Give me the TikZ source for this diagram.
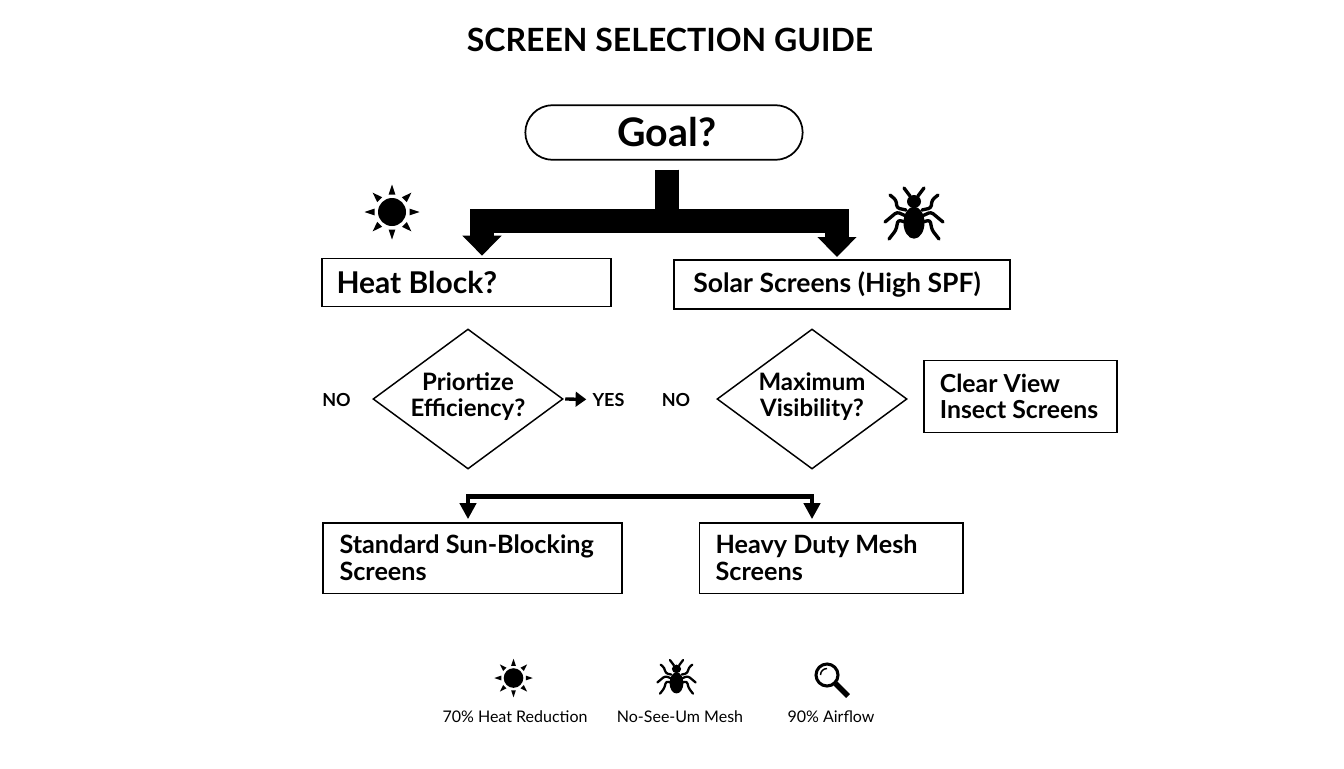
\documentclass[tikz,border=0pt]{standalone}
\usepackage{fontspec}
\setmainfont{Lato}
\usetikzlibrary{shapes.geometric,shapes.misc,arrows.meta,calc}
\tikzset{
  px/.style={x=0.75pt,y=-0.75pt},
  boxnode/.style={draw=black,line width=1.25pt,fill=white,rectangle,font=\bfseries\fontsize{18.9}{20}\selectfont,align=flush left,inner sep=0pt},
  decnode/.style={draw=black,line width=1.1pt,diamond,aspect=1.357,inner sep=0pt,minimum width=142.5pt,minimum height=105pt},
  dectext/.style={font=\bfseries\fontsize{18}{19}\selectfont,align=center,yshift=1.7pt,inner sep=0pt},
  smalllabel/.style={font=\bfseries\fontsize{13.5}{16}\selectfont,inner sep=0pt},
  caplabel/.style={font=\fontsize{12}{14}\selectfont,inner sep=0pt},
  fatarrow/.style={draw=black,line width=18pt,-{Triangle[length=15pt,width=28.5pt]},line join=miter,shorten >=1.5pt},
  midarrow/.style={draw=black,line width=3.6pt,-{Triangle[length=12pt,width=12pt]},line join=miter,shorten >=2pt},
  thinarrow/.style={draw=black,line width=2.5pt,-{Triangle[length=8pt,width=11pt]},shorten >=4.5pt},
  pics/sunicon/.style={code={
    \fill (0,0) circle (14);
    \foreach \a in {0,45,...,315}{
      \fill[rotate=\a] (17.5,-3.4) -- (27.5,0) -- (17.5,3.4) -- cycle;
    }
  }},
  pics/bugicon/.style={code={
    \fill (0,-11.5) ellipse (7 and 6.5);
    \fill (0,9.7) ellipse (10.5 and 16);
    \foreach \s in {-1,1}{
      \begin{scope}[xscale=\s,line width=#1,line cap=round,line join=round]
        \draw (4,-17) -- (10,-25);
        \draw[rounded corners=2pt] (8,-3) -- (17,-5) -- (18,-13) -- (24,-18);
        \draw[rounded corners=2pt] (8,3) -- (17,-1) -- (29,9);
        \draw[rounded corners=2pt] (9,9) -- (16,7) -- (18,17) -- (25,26);
      \end{scope}
    }
  }},
  pics/lensicon/.style={code={
    \draw[line width=2.3pt] (0,0) circle (11);
    \draw[line width=1.1pt] (-6.5,0) arc (180:270:6.5);
    \draw[line width=4pt] (8.5,8.5) -- (21,21);
  }},
}
\begin{document}
\begin{tikzpicture}[px]
\useasboundingbox (0,0) rectangle (1344,768);
\fill[white] (0,0) rectangle (1344,768);
\node[inner sep=0pt,font=\bfseries\fontsize{24}{28}\selectfont] (title) at (670,40) {SCREEN SELECTION GUIDE};
\node[draw=black,line width=1.3pt,rounded rectangle,minimum width=208pt,minimum height=41pt,inner sep=0pt,font=\bfseries\fontsize{29.5}{30}\selectfont] (goal) at (664,132.5) {\hspace*{4.5pt}Goal?};

\node[boxnode,font=\bfseries\fontsize{22.5}{26}\selectfont,minimum width=217pt,minimum height=36pt,text width=195pt] (heat) at (466.5,282.5) {Heat Block?};
\node[boxnode,font=\bfseries\fontsize{19.9}{24}\selectfont,minimum width=252pt,minimum height=37pt,text width=223pt] (solar) at (842,284.5) {Solar Screens (High SPF)};
\node[decnode,label={[dectext,name=priotext]center:{Priortize\\Efficiency?}}] (prio) at (468,399) {};
\node[decnode,label={[dectext,name=maxtext]center:{Maximum\\Visibility?}}] (maxv) at (812,399) {};
\node[smalllabel] (no1) at (336.5,399.5) {NO};
\node[smalllabel] (yes) at (608.5,399.5) {YES};
\node[smalllabel] (no2) at (676,399.5) {NO};
\node[boxnode,font=\bfseries\fontsize{18.6}{19.5}\selectfont,minimum width=144.5pt,minimum height=54pt,text width=121pt] (clear) at (1020.5,396.5) {Clear View\\Insect Screens};
\node[boxnode,minimum width=224pt,minimum height=53pt,text width=199.5pt] (std) at (472.5,558) {Standard Sun-Blocking\\Screens};
\node[boxnode,minimum width=197.5pt,minimum height=53pt,text width=173pt] (heavy) at (831,558) {Heavy Duty Mesh\\Screens};

% connectors
\coordinate (stem) at ($(goal.south)+(3,9)$);
\coordinate (tipl) at ($(heat.north)+(15.5,0)$);
\coordinate (tipr) at ($(solar.north)+(-5,0)$);
\draw[fatarrow] (stem) |- ($(tipl)+(0,-36.5)$) -- (tipl);
\draw[fatarrow] (stem) |- ($(tipr)+(0,-38)$) -- (tipr);
\coordinate (bar) at ($(prio.south)!0.5!(maxv.south)+(0,27)$);
\draw[midarrow] (bar) -| (prio.south |- std.north);
\draw[midarrow] (bar) -| (maxv.south |- heavy.north);
\draw[thinarrow] (prio.east) ++(1.5,0) -- (yes.west);

% icons
\pic at (392,212) {sunicon};
\pic at (914,213) {bugicon=2.5pt};
\pic[scale=0.7] at (513.5,678) {sunicon};
\pic[scale=0.66] at (676.5,676.5) {bugicon=1.7pt};
\pic at (827,675) {lensicon};
\node[caplabel] (c1) at (515,717) {70\% Heat Reduction};
\node[caplabel] (c2) at (680,717) {No-See-Um Mesh};
\node[caplabel] (c3) at (831,717) {90\% Airflow};
\end{tikzpicture}
\end{document}
